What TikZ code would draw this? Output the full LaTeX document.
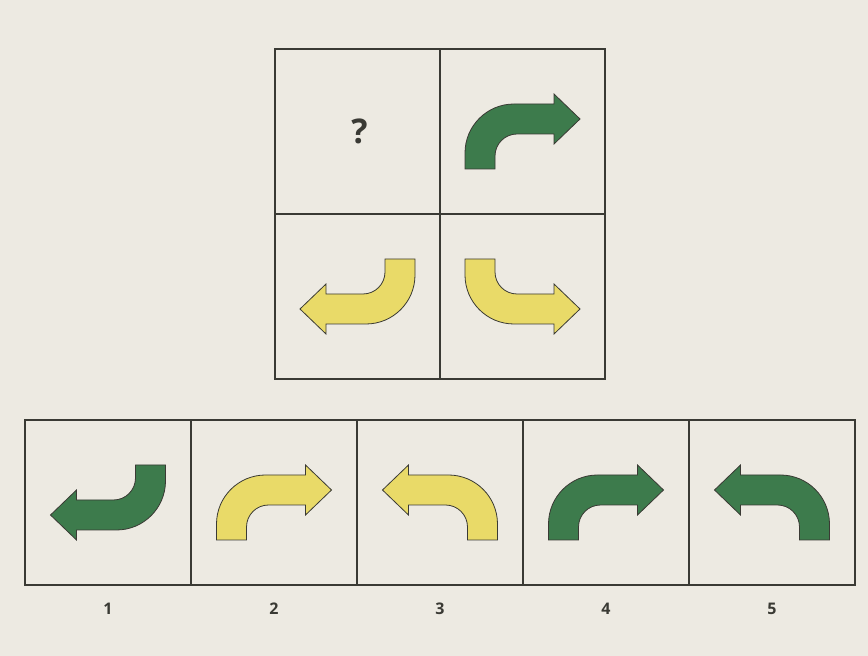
\documentclass[tikz,border=0pt]{standalone}
\usepackage{fontspec}
\setmainfont{Open Sans}
\usetikzlibrary{positioning}
\definecolor{paper}{HTML}{EDEAE2}
\definecolor{frame}{HTML}{3A3A34}
\definecolor{leaf}{HTML}{3D7B4C}
\definecolor{lemon}{HTML}{E9DA68}
\begin{document}
\begin{tikzpicture}[x=1pt, y=1pt,
    cell/.style={draw=frame, line width=1.3pt, minimum width=165pt,
      minimum height=165pt, inner sep=0pt},
    num/.style={font=\fontsize{16}{18}\selectfont\bfseries, text=frame, inner sep=0pt},
    turn/.pic={
      \draw[line width=0.8pt, draw=frame, line join=miter, pic actions]
        (-57.5,-37.5) -- (-57.5,-21.5) arc[start angle=180, end angle=90, radius=49pt]
        -- (31.5,27.5) -- (31.5,37.5) -- (57.5,12.5) -- (31.5,-12.5) -- (31.5,-2.5)
        -- (-5.5,-2.5) arc[start angle=90, end angle=180, radius=22pt]
        -- (-27.5,-37.5) -- cycle;
    },
  ]
    \fill[paper] (0,0) rectangle (868,656);
    \useasboundingbox (0,0) rectangle (868,656);

    % Puzzle grid
    \node[cell] (ask) at (357.5,524.5) {};
    \node[cell] (given) at (522.5,524.5) {};
    \node[cell] (lower) at (357.5,359.5) {};
    \node[cell] (corner) at (522.5,359.5) {};
    \node[font=\fontsize{34}{36}\selectfont\bfseries, text=frame] (qm) at ([xshift=2pt]ask) {?};
    \pic[fill=leaf] at (given) {turn};
    \pic[fill=lemon, rotate=180] at (lower) {turn};
    \pic[fill=lemon, yscale=-1] at (corner) {turn};

    % Answer options
    \node[cell, minimum width=166pt] (opt1) at (108,153.5) {};
    \node[cell, minimum width=166pt] (opt2) at (274,153.5) {};
    \node[cell, minimum width=166pt] (opt3) at (440,153.5) {};
    \node[cell, minimum width=166pt] (opt4) at (606,153.5) {};
    \node[cell, minimum width=166pt] (opt5) at (772,153.5) {};
    \pic[fill=leaf, rotate=180] at (opt1) {turn};
    \pic[fill=lemon] at (opt2) {turn};
    \pic[fill=lemon, xscale=-1] at (opt3) {turn};
    \pic[fill=leaf] at (opt4) {turn};
    \pic[fill=leaf, xscale=-1] at (opt5) {turn};

    % Option numbers
    \node[num, below=17pt of opt1] (n1) {1};
    \node[num, below=17pt of opt2] (n2) {2};
    \node[num, below=17pt of opt3] (n3) {3};
    \node[num, below=17pt of opt4] (n4) {4};
    \node[num, below=17pt of opt5] (n5) {5};
\end{tikzpicture}
\end{document}
